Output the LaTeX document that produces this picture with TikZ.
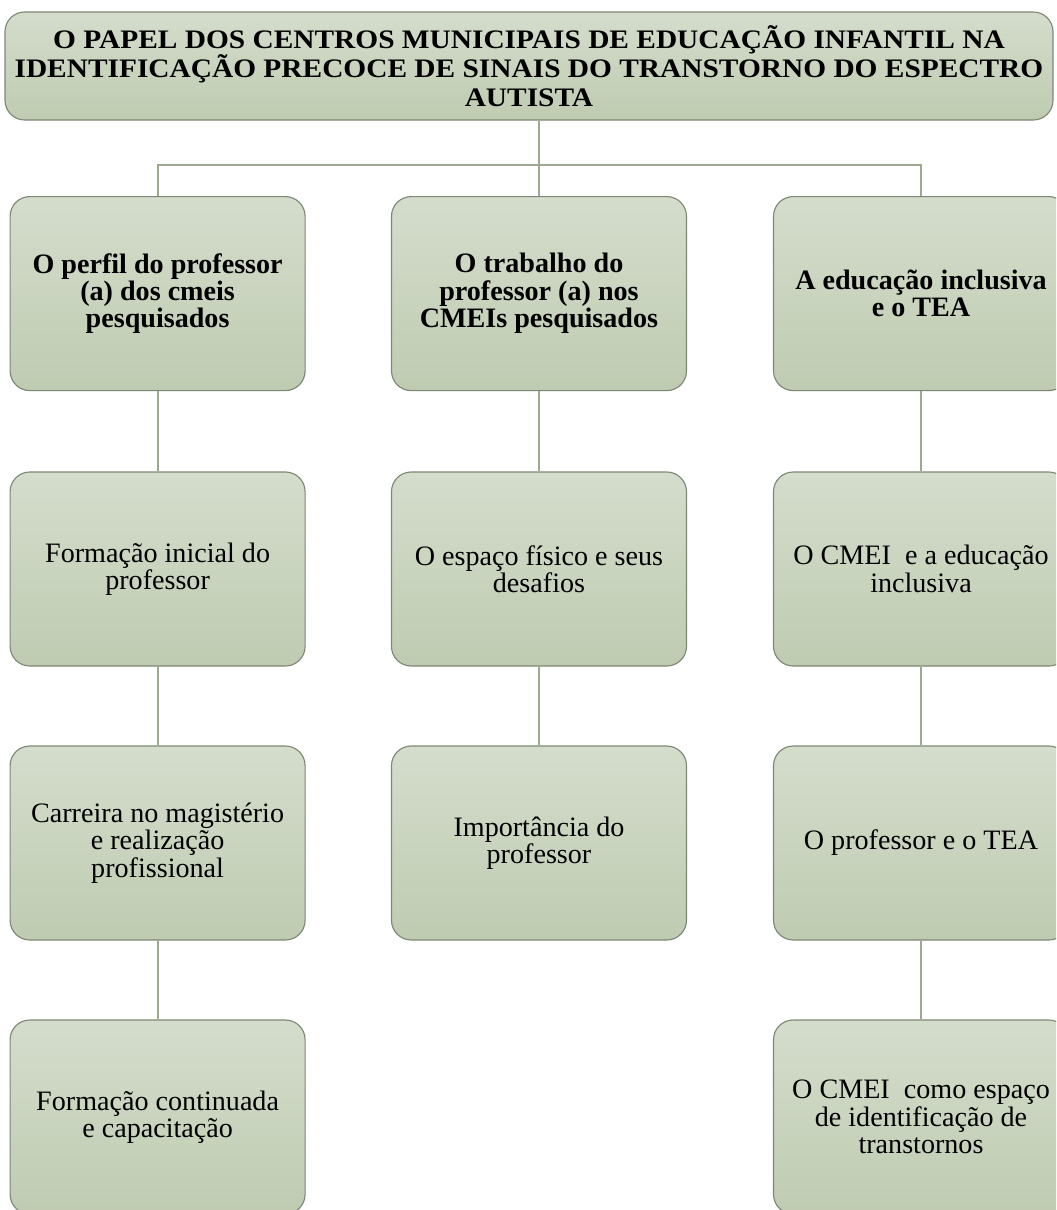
\documentclass[tikz,border=0pt]{standalone}
\usepackage{fontspec}
\setmainfont{Liberation Serif}
\newfontfamily\titlefont[FakeStretch=1.1]{Liberation Serif}
\usetikzlibrary{positioning}
\definecolor{cfilltop}{HTML}{D4DDCC}
\definecolor{cfillbot}{HTML}{BFCBB1}
\definecolor{cborder}{HTML}{7C8774}
\definecolor{clink}{HTML}{9CA990}
\tikzset{
  tbox/.style={draw=cborder, top color=cfilltop, bottom color=cfillbot,
               rounded corners=14pt, line width=0.8pt, align=center},
  link/.style={draw=clink, line width=1.5pt},
}

\begin{document}
\begin{tikzpicture}[
    titlebox/.style={tbox, minimum width=26.2cm, minimum height=2.7cm,
                     font=\titlefont\bfseries\fontsize{19}{20.5}\selectfont},
    headbox/.style={tbox, minimum width=7.375cm, minimum height=4.85cm,
                    font=\bfseries\fontsize{20}{19.5}\selectfont},
    subbox/.style={tbox, minimum width=7.375cm, minimum height=4.85cm,
                   font=\fontsize{20}{19.5}\selectfont},
  ]
  \clip (0,0) rectangle (26.4,-30.25);
  \useasboundingbox (0,0) rectangle (26.4,-30.25);

  % Título
  \node[titlebox] (title) at (13.225, -1.65) {O PAPEL DOS CENTROS MUNICIPAIS DE EDUCAÇÃO INFANTIL NA\\
    IDENTIFICAÇÃO PRECOCE DE SINAIS DO TRANSTORNO DO ESPECTRO\\AUTISTA};

  % Categorias (primeira linha)
  \node[headbox] (perfil) at (3.94, -7.34) {O perfil do professor\\(a) dos cmeis\\pesquisados};
  \node[headbox] (trab) at (13.475, -7.34) {O trabalho do\\professor (a) nos\\CMEIs pesquisados};
  \node[headbox] (incl) at (23.025, -7.34) {A educação inclusiva\\e o TEA};

  % Coluna 1
  \node[subbox] (form) at (3.94, -14.225) {Formação inicial do\\professor};
  \node[subbox] (carr) at (3.94, -21.075) {Carreira no magistério\\e realização\\profissional};
  \node[subbox] (cont) at (3.94, -27.925) {Formação continuada\\e capacitação};

  % Coluna 2
  \node[subbox] (esp) at (13.475, -14.225) {O espaço físico e seus\\desafios};
  \node[subbox] (imp) at (13.475, -21.075) {Importância do\\professor};

  % Coluna 3
  \node[subbox] (cmei) at (23.025, -14.225) {O CMEI~ e a educação\\inclusiva};
  \node[subbox] (prof) at (23.025, -21.075) {O professor e o TEA};
  \node[subbox] (ident) at (23.025, -27.925) {O CMEI~ como espaço\\de identificação de\\transtornos};

  % Ligações
  \coordinate (jn) at (13.475, -4.125);
  \draw[link] (title.south -| jn) -- (jn);
  \draw[link] (perfil.north) |- (jn) -| (incl.north);
  \draw[link] (jn) -- (trab.north);
  \draw[link] (perfil) -- (form) (form) -- (carr) (carr) -- (cont);
  \draw[link] (trab) -- (esp) (esp) -- (imp);
  \draw[link] (incl) -- (cmei) (cmei) -- (prof) (prof) -- (ident);
\end{tikzpicture}
\end{document}
